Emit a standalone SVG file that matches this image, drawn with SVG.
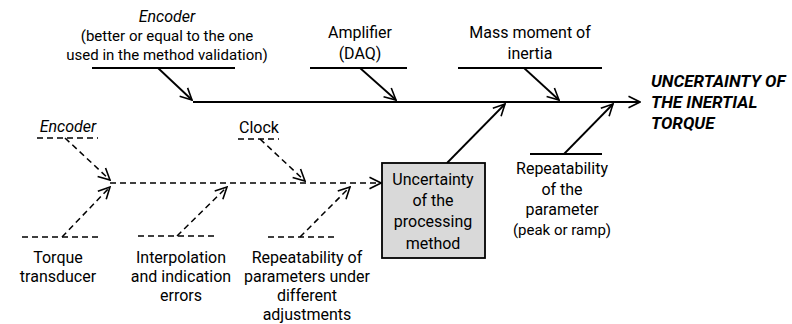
<svg xmlns="http://www.w3.org/2000/svg" width="792" height="324" viewBox="0 0 792 324">
  <style>
    .t { font-family: Roboto, "Liberation Sans", sans-serif; font-size: 16px; fill: #000; text-anchor: middle; }
    .s { font-size: 15px; }
    .i { font-style: italic; }
    .title { font-family: Roboto, "Liberation Sans", sans-serif; font-size: 17px; font-weight: bold; font-style: italic; fill: #000; }
    .solid { stroke: #000; stroke-width: 1.8; fill: none; }
    .dash { stroke: #000; stroke-width: 1.5; fill: none; stroke-dasharray: 6 4; }
    .arr { marker-end: url(#head); }
    .box { fill: #d9d9d9; stroke: #000; stroke-width: 1.8; }
  </style>
  <defs>
    <marker id="head" markerUnits="userSpaceOnUse" markerWidth="14" markerHeight="14" viewBox="0 0 14 14" refX="13" refY="7" orient="auto">
      <path d="M1.5,1.2 L13,7 L1.5,12.8" fill="none" stroke="#000" stroke-width="1.6"/>
    </marker>
  </defs>

  <!-- connectors: main spine, causes and the dashed sub-branch -->
  <g id="connectors">
    <path class="solid arr" d="M193,102 L640,102"/>
    <path class="solid" d="M92,68 L235,68"/>
    <path class="solid arr" d="M158,68 L192,100"/>
    <path class="solid" d="M310,68 L407,68"/>
    <path class="solid arr" d="M360,68 L396,100"/>
    <path class="solid" d="M458,68 L602,68"/>
    <path class="solid arr" d="M524,68 L559,100"/>
    <path class="solid arr" d="M447,163 L505,104"/>
    <path class="solid" d="M530,154 L602,154"/>
    <path class="solid arr" d="M564,154 L613,104"/>

    <path class="dash arr" d="M110,183 L381,183"/>
    <path class="dash" d="M37,138 L98,138"/>
    <path class="dash arr" d="M65,138 L110,180"/>
    <path class="dash" d="M238,139 L279,139"/>
    <path class="dash arr" d="M260,139 L305,181"/>
    <path class="dash" d="M22,237 L100,237"/>
    <path class="dash arr" d="M62,237 L110,187"/>
    <path class="dash" d="M138,236 L218,236"/>
    <path class="dash arr" d="M177,236 L227,187"/>
    <path class="dash" d="M268,237 L334,237"/>
    <path class="dash arr" d="M300,237 L350,187"/>
  </g>

  <g id="encoder-main">
    <text class="t" x="167" y="22"><tspan class="i">Encoder</tspan><tspan class="s" x="167" dy="19">(better or equal to the one</tspan><tspan class="s" x="167" dy="19">used in the method validation)</tspan></text>
  </g>
  <g id="amplifier">
    <text class="t" x="360" y="38">Amplifier<tspan x="360" dy="21">(DAQ)</tspan></text>
  </g>
  <g id="mass-moment">
    <text class="t" x="530" y="38">Mass moment of<tspan x="530" dy="21">inertia</tspan></text>
  </g>
  <g id="result">
    <text class="title" x="651" y="87">UNCERTAINTY OF<tspan x="651" dy="21">THE INERTIAL</tspan><tspan x="651" dy="21">TORQUE</tspan></text>
  </g>
  <g id="processing-method">
    <rect class="box" x="382" y="163" width="103" height="95"/>
    <text class="t" x="433" y="185">Uncertainty<tspan x="433" dy="21">of the</tspan><tspan x="433" dy="21">processing</tspan><tspan x="433" dy="22">method</tspan></text>
  </g>
  <g id="repeatability-parameter">
    <text class="t" x="562" y="174">Repeatability<tspan x="562" dy="21">of the</tspan><tspan x="562" dy="20">parameter</tspan><tspan class="s" x="562" dy="20">(peak or ramp)</tspan></text>
  </g>
  <g id="encoder-sub">
    <text class="t i" x="68" y="132">Encoder</text>
  </g>
  <g id="clock">
    <text class="t" x="259" y="133">Clock</text>
  </g>
  <g id="torque-transducer">
    <text class="t" x="58" y="263">Torque<tspan x="58" dy="19">transducer</tspan></text>
  </g>
  <g id="interpolation">
    <text class="t" x="181" y="263">Interpolation<tspan x="181" dy="19">and indication</tspan><tspan x="181" dy="19">errors</tspan></text>
  </g>
  <g id="repeatability-adjustments">
    <text class="t" x="307" y="262.8">Repeatability of<tspan x="307" dy="19">parameters under</tspan><tspan x="307" dy="19">different</tspan><tspan x="307" dy="19">adjustments</tspan></text>
  </g>
</svg>
